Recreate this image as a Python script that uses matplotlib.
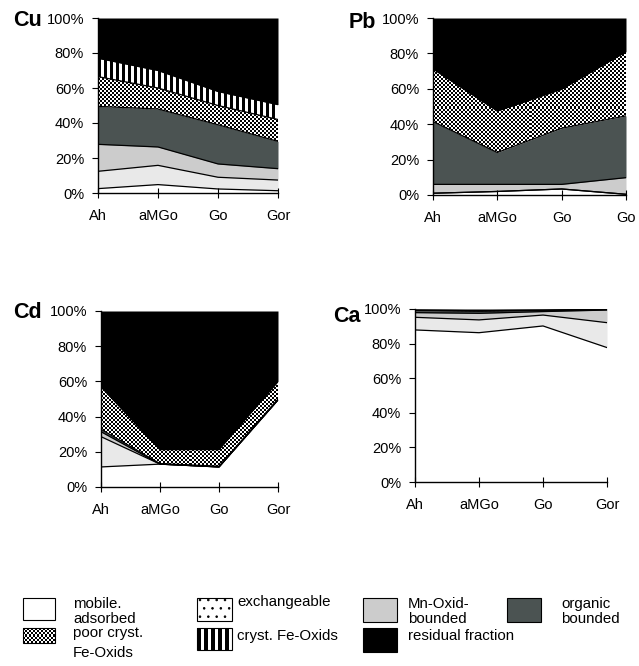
import numpy as np
import matplotlib
matplotlib.use("Agg")
import matplotlib.pyplot as plt
from matplotlib.patches import Polygon, Rectangle
from matplotlib.ticker import PercentFormatter

plt.rcParams["font.family"] = ["Liberation Sans", "DejaVu Sans"]
plt.rcParams["hatch.linewidth"] = 0.6

W, H = 639, 666

# horizons (x axis)
horizons = ["Ah", "aMGo", "Go", "Gor"]
horizons_pb = ["Ah", "aMGo", "Go", "Go"]

# fraction order, bottom to top
fractions = ["mobile", "exchangeable", "mn_oxid", "organic",
             "poor_cryst", "cryst", "residual"]

# share of each fraction in % (Ah, aMGo, Go, Gor)
cu_mobile = [2.5, 4.8, 2.3, 1.3]
cu_exch = [9.9, 11.0, 6.7, 6.1]
cu_mn = [15.4, 10.5, 7.6, 6.5]
cu_org = [21.7, 21.7, 22.4, 15.6]
cu_poor = [17.0, 12.0, 11.0, 12.5]
cu_cryst = [10.5, 10.0, 8.0, 8.5]
cu_resid = [23.0, 30.0, 42.0, 49.5]

pb_mobile = [1.0, 2.0, 3.4, 0.4]
pb_exch = [0.0, 0.0, 0.0, 0.0]
pb_mn = [5.0, 4.0, 2.6, 9.4]
pb_org = [35.5, 18.0, 31.7, 34.9]
pb_poor = [29.8, 23.5, 22.1, 36.3]
pb_cryst = [0.0, 0.0, 0.0, 0.0]
pb_resid = [28.7, 52.5, 40.2, 19.0]

cd_mobile = [11.4, 13.0, 11.4, 49.5]
cd_exch = [17.2, 0.0, 0.0, 0.0]
cd_mn = [2.8, 0.0, 0.0, 0.0]
cd_org = [1.4, 0.3, 0.4, 0.5]
cd_poor = [24.2, 8.0, 9.5, 10.0]
cd_cryst = [0.0, 0.0, 0.0, 0.0]
cd_resid = [43.0, 78.7, 78.7, 40.0]

ca_mobile = [87.9, 86.3, 90.2, 77.7]
ca_exch = [7.3, 7.4, 6.3, 14.4]
ca_mn = [2.7, 3.8, 2.0, 7.3]
ca_org = [1.1, 1.2, 0.5, 0.2]
ca_poor = [0.3, 0.3, 0.3, 0.2]
ca_cryst = [0.0, 0.0, 0.0, 0.0]
ca_resid = [0.7, 1.0, 0.7, 0.2]

STYLE = {
    "mobile": dict(color="white"),
    "exchangeable": dict(color="#e9e9e9"),
    "mn_oxid": dict(color="#cccccc"),
    "organic": dict(color="#4b5352"),
    "poor_cryst": dict(texture="checker"),
    "cryst": dict(texture="stripes"),
    "residual": dict(color="black"),
}


def texture(kind, w, h, period=6, dark=3):
    if kind == "checker":
        r, c = max(h // 2, 1), max(w // 2, 1)
        return np.add.outer(np.arange(r), np.arange(c)) % 2
    arr = (np.arange(w) % period >= dark).astype(float)
    return np.tile(arr, (max(h, 1), 1))


def textured_patch(ax, verts, tex, extent, z=1):
    patch = Polygon(verts, closed=True, facecolor="none", edgecolor="none",
                    transform=ax.transData)
    ax.add_patch(patch)
    im = ax.imshow(tex, cmap="gray", vmin=0, vmax=1,
                   extent=extent, aspect="auto", interpolation="nearest", zorder=z)
    im.set_clip_path(patch)


def panel(rect_px, name, name_xy, layers, labels):
    l, r, t, b = rect_px
    ax = fig.add_axes([l / W, 1 - b / H, (r - l) / W, (b - t) / H])
    x = np.arange(len(labels))
    tops = np.cumsum(np.array(layers), axis=0)
    bottom = np.zeros(len(labels))
    for frac, top in zip(fractions, tops):
        st = STYLE[frac]
        if "texture" in st:
            verts = np.column_stack([np.concatenate([x, x[::-1]]),
                                     np.concatenate([top, bottom[::-1]])])
            textured_patch(ax, verts, texture(st["texture"], r - l, b - t),
                           (0, 3, 0, 100))
        else:
            ax.fill_between(x, bottom, top, color=st["color"], lw=0, zorder=1)
        if frac != "residual":
            ax.plot(x, top, color="black", lw=0.9, zorder=3)
        bottom = top
    ax.set_xlim(0, 3)
    ax.set_ylim(0, 100)
    ax.set_xticks(x)
    ax.set_xticklabels(labels)
    ax.set_yticks(np.arange(0, 101, 20))
    ax.yaxis.set_major_formatter(PercentFormatter(decimals=0))
    for s in ["top", "right"]:
        ax.spines[s].set_visible(False)
    ax.spines["left"].set_linewidth(1.0)
    ax.spines["bottom"].set_linewidth(1.0)
    ax.tick_params(axis="y", direction="out", length=4, pad=6, labelsize=10.5)
    ax.tick_params(axis="x", direction="inout", length=7, pad=8, labelsize=10.5)
    fig.text(name_xy[0] / W, 1 - name_xy[1] / H, name, fontsize=15.5,
             fontweight="bold", ha="center", va="center")
    return ax


fig = plt.figure(figsize=(W / 100, H / 100), dpi=100)

panel((98, 278, 18, 193), "Cu", (28, 21),
      [cu_mobile, cu_exch, cu_mn, cu_org, cu_poor, cu_cryst, cu_resid], horizons)
panel((433, 626, 18, 195), "Pb", (362, 22),
      [pb_mobile, pb_exch, pb_mn, pb_org, pb_poor, pb_cryst, pb_resid], horizons_pb)
panel((101, 278, 311, 487), "Cd", (27, 313),
      [cd_mobile, cd_exch, cd_mn, cd_org, cd_poor, cd_cryst, cd_resid], horizons)
panel((415, 607, 309, 482), "Ca", (347, 316),
      [ca_mobile, ca_exch, ca_mn, ca_org, ca_poor, ca_cryst, ca_resid], horizons)

# legend drawn in pixel coordinates
leg = fig.add_axes([0, 0, 1, 1])
leg.set_axis_off()

boxes = [
    ((23, 598, 55, 620), dict(color="white")),
    ((23, 628, 55, 643), dict(texture="checker")),
    ((197, 598, 232, 621), dict(color="white", hatch="..")),
    ((197, 628, 232, 650), dict(texture="stripes")),
    ((363, 598, 397, 622), dict(color="#cccccc")),
    ((363, 628, 397, 652), dict(color="black")),
    ((507, 598, 541, 622), dict(color="#4b5352")),
]
for (x0, y0, x1, y1), st in boxes:
    if "texture" in st:
        verts = [(x0, y0), (x1, y0), (x1, y1), (x0, y1)]
        tex = texture(st["texture"], x1 - x0, y1 - y0, period=7, dark=4)
        textured_patch(leg, verts, tex, (x0, x1, y1, y0))
        leg.add_patch(Rectangle((x0, y0), x1 - x0, y1 - y0, fill=False,
                                edgecolor="black", lw=0.8, zorder=3))
    else:
        leg.add_patch(Rectangle((x0, y0), x1 - x0, y1 - y0, facecolor=st["color"],
                                edgecolor="black", lw=0.8, hatch=st.get("hatch"),
                                zorder=2))

# (x, baseline y, text)
legend_texts = [
    (73, 608, "mobile."),
    (73, 623, "adsorbed"),
    (73, 637, "poor cryst."),
    (73, 657, "Fe-Oxids"),
    (237, 606, "exchangeable"),
    (237, 640, "cryst. Fe-Oxids"),
    (408, 608, "Mn-Oxid-"),
    (408, 623, "bounded"),
    (408, 640, "residual fraction"),
    (561, 608, "organic"),
    (561, 623, "bounded"),
]
for tx, ty, s in legend_texts:
    leg.text(tx, ty, s, fontsize=10.8, ha="left", va="baseline")

leg.set_xlim(0, W)
leg.set_ylim(H, 0)

fig.savefig("out.png", dpi=100)
